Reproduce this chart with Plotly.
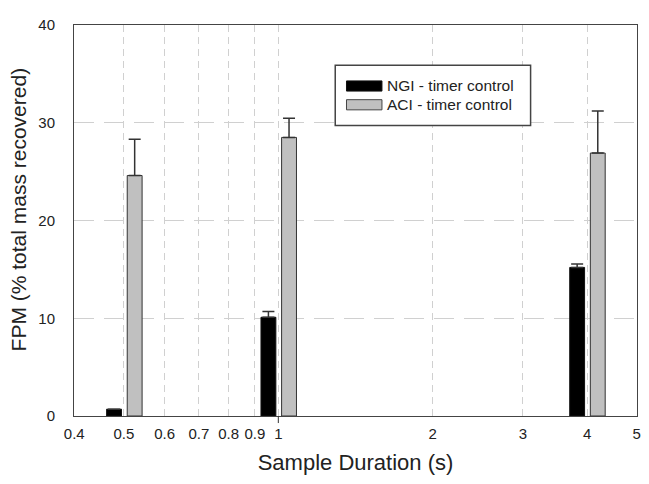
import math
import plotly.graph_objects as go

durations = [0.5, 1, 4]
ngi_values = [0.7, 10.1, 15.2]
ngi_errors = [0.0, 0.6, 0.35]
aci_values = [24.6, 28.5, 26.9]
aci_errors = [3.7, 1.95, 4.3]
x_tick_values = [0.4, 0.5, 0.6, 0.7, 0.8, 0.9, 1, 2, 3, 4, 5]
x_tick_labels = ["0.4", "0.5", "0.6", "0.7", "0.8", "0.9", "1", "2", "3", "4", "5"]
y_tick_values = [0, 10, 20, 30, 40]
series_names = ["NGI - timer control", "ACI - timer control"]

FONT = "Liberation Sans, Arial, sans-serif"
log_x = [math.log10(d) for d in durations]
bar_w = 0.029

fig = go.Figure()
fig.add_trace(go.Bar(
    x=log_x, y=ngi_values, name=series_names[0], showlegend=False,
    width=bar_w, offset=-0.0338,
    marker=dict(color="#000000", line=dict(color="#111111", width=1)),
    error_y=dict(type="data", symmetric=False, array=ngi_errors,
                 arrayminus=[0] * len(ngi_errors), color="#333333",
                 thickness=1.5, width=6),
))
fig.add_trace(go.Bar(
    x=log_x, y=aci_values, name=series_names[1], showlegend=False,
    width=bar_w, offset=0.0064,
    marker=dict(color="#c0c0c0", line=dict(color="#333333", width=1)),
    error_y=dict(type="data", symmetric=False, array=aci_errors,
                 arrayminus=[0] * len(aci_errors), color="#333333",
                 thickness=1.5, width=6),
))

# single outward tick at x = 1
fig.add_shape(type="line", xref="x", yref="paper", x0=0, x1=0, y0=0, y1=-0.018,
              line=dict(color="#333333", width=1))

# legend box drawn by hand (wide swatches like the original)
fig.add_shape(type="rect", xref="paper", yref="paper", x0=0.464, x1=0.811, y0=0.743, y1=0.897,
              line=dict(color="#444444", width=1.5), fillcolor="white", layer="above")
sw = [("#000000", "#111111", 0.831, 0.857), ("#c0c0c0", "#444444", 0.783, 0.809)]
for (fc, lc, y0, y1), name in zip(sw, series_names):
    fig.add_shape(type="rect", xref="paper", yref="paper", x0=0.484, x1=0.547, y0=y0, y1=y1,
                  line=dict(color=lc, width=1), fillcolor=fc, layer="above")
    fig.add_annotation(xref="paper", yref="paper", x=0.552, y=(y0 + y1) / 2,
                       xanchor="left", yanchor="middle", text=name, showarrow=False,
                       font=dict(size=15.5, family=FONT, color="#222222"))

# y-axis title (placed like the original, slightly above centre)
fig.add_annotation(xref="paper", yref="paper", x=-0.099, y=0.529, textangle=-90,
                   xanchor="center", yanchor="middle", showarrow=False,
                   text="FPM (% total mass recovered)",
                   font=dict(size=21, family=FONT, color="#222222"))

# The page body keeps its default 8px margin, so the figure is made 8px
# smaller in each direction to fit the 649x484 window.
fig.update_layout(
    width=641, height=476,
    margin=dict(l=66, r=8, t=11, b=68),
    paper_bgcolor="white", plot_bgcolor="white",
    font=dict(family=FONT, size=15, color="#222222"),
    barmode="overlay",
    showlegend=False,
    xaxis=dict(
        range=[math.log10(0.4) - 0.0005, math.log10(5) + 0.0005],
        tickvals=[math.log10(v) for v in x_tick_values], ticktext=x_tick_labels, ticks="",
        ticklabeloverflow="allow",
        showgrid=True, gridcolor="#d0d0d0", gridwidth=1, griddash="7px,5px",
        showline=True, linecolor="#444444", linewidth=1, mirror=True,
        zeroline=False,
        title=dict(text="Sample Duration (s)", font=dict(size=22), standoff=13),
        tickfont=dict(size=15),
        ticklabelstandoff=4,
    ),
    yaxis=dict(
        range=[0, 40], tickvals=y_tick_values, ticks="",
        showgrid=True, gridcolor="#d0d0d0", gridwidth=1, griddash="20px,10px",
        showline=True, linecolor="#444444", linewidth=1, mirror=True,
        zeroline=False,
        tickfont=dict(size=15),
        ticklabelstandoff=15,
    ),
)

fig.write_html("out.html")
